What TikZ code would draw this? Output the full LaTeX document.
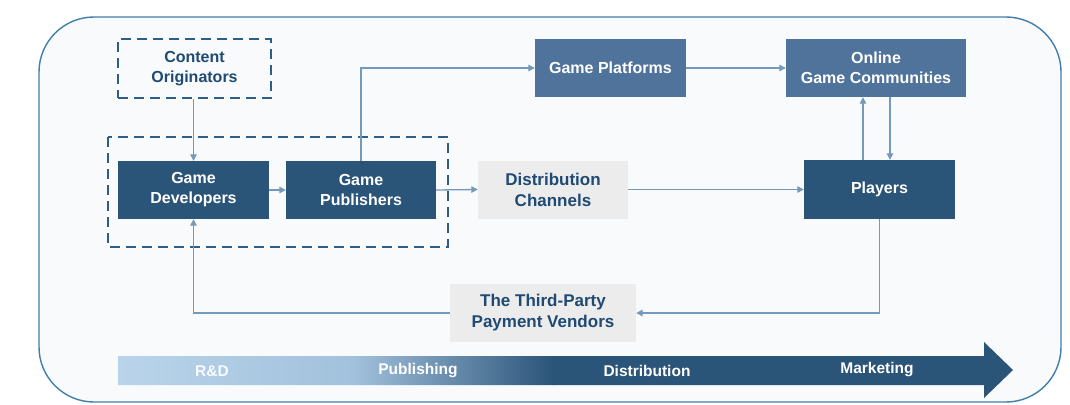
\documentclass[tikz,border=0pt]{standalone}
\usepackage{fontspec}
\setmainfont{Liberation Sans}
\usetikzlibrary{arrows.meta}
\definecolor{navy}{HTML}{2B5479}
\definecolor{steel}{HTML}{4F739A}
\definecolor{paleg}{HTML}{ECECEC}
\definecolor{linec}{HTML}{7399BB}
\definecolor{framec}{HTML}{3F7FAA}
\definecolor{bgc}{HTML}{F9FAFC}
\definecolor{dashc}{HTML}{2E5E86}
\definecolor{darktext}{HTML}{1F4A73}
\definecolor{lightbar}{HTML}{B9D4EA}
\definecolor{midbar}{HTML}{A2C1DC}
\begin{document}
\begin{tikzpicture}[x=1pt,y=-1pt,
  every node/.style={font=\bfseries\fontsize{16}{20}\selectfont, align=center, inner sep=0pt},
  darkbox/.style={fill=navy, text=white, minimum height=58pt},
  lightbox/.style={fill=steel, text=white, minimum height=58pt},
  greybox/.style={fill=paleg, text=darktext, minimum height=58pt, font=\bfseries\fontsize{17}{21}\selectfont},
  dashbox/.style={draw=dashc, line width=2.2pt, dash pattern=on 10pt off 6pt},
  arr/.style={draw=linec, line width=1.3pt, -{Triangle[length=6.5pt,width=6.5pt]}},
  barlabel/.style={text=white, font=\bfseries\fontsize{15.5}{18}\selectfont}
]
\useasboundingbox (0,0) rectangle (1070,404);
\fill[white] (0,0) rectangle (1070,404);

% outer frame
\draw[framec, line width=1.4pt, fill=bgc, rounded corners=55pt] (39,17) rectangle (1061,402);

% grouping of developers and publishers
\draw[dashbox] (108,137) rectangle (448,247);

% nodes
\node[dashbox, minimum width=153pt, minimum height=59pt, text=darktext] (orig) at (194.5,68.5) {Content\\Originators};
\node[darkbox, minimum width=151pt] (dev) at (193.5,190) {Game\\Developers};
\node[darkbox, minimum width=150pt] (pub) at (361,190) {Game\\Publishers};
\node[greybox, minimum width=150pt] (dist) at (553,189.5) {Distribution\\Channels};
\node[lightbox, minimum width=151pt] (plat) at (610.5,68) {Game Platforms};
\node[lightbox, minimum width=180pt] (online) at (876,68) {Online\\Game Communities};
\node[darkbox, minimum width=151pt, minimum height=59pt] (players) at (879.5,189.5) {Players};
\node[greybox, minimum width=186pt] (pay) at (543,313) {The Third-Party\\Payment Vendors};

% connectors
\draw[arr] (orig.south -| dev.north) -- (dev.north);
\draw[arr] (dev.east) -- (pub.west);
\draw[arr] (pub.east) -- (dist.west);
\draw[arr] (pub.north) |- (plat.west);
\draw[arr] (plat.east) -- (online.west);
\draw[arr] (dist.east) -- (players.west);
\coordinate (upx) at (863,0);
\coordinate (dnx) at (890,0);
\draw[arr] (players.north -| upx) -- (online.south -| upx);
\draw[arr] (online.south -| dnx) -- (players.north -| dnx);
\draw[arr] (players.south) |- (pay.east);
\draw[arr] (pay.west) -| (dev.south);

% value-chain arrow
\begin{scope}
  \clip (118,356) -- (984,356) -- (984,342) -- (1013,370) -- (984,398) -- (984,385) -- (118,385) -- cycle;
  \shade[left color=lightbar, right color=midbar] (117,340) rectangle (354,400);
  \shade[left color=midbar, right color=navy] (353,340) rectangle (554,400);
  \fill[navy] (553,340) rectangle (1020,400);
\end{scope}
\node[barlabel, text=white!90!lightbar] (rd) at (212,371) {R\&D};
\node[barlabel] (publ) at (418,371) {Publishing};
\node[barlabel] (distl) at (647,371) {Distribution};
\node[barlabel] (mkt) at (877,370) {Marketing};
\end{tikzpicture}
\end{document}
